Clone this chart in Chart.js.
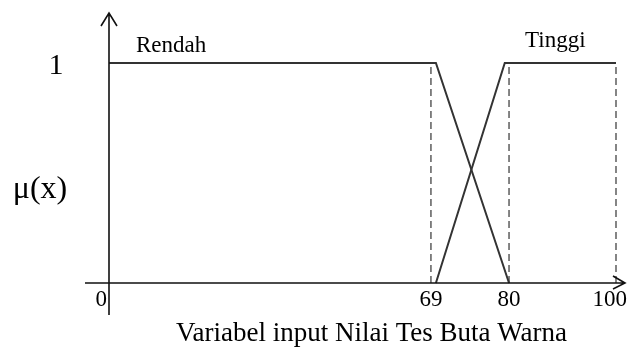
<!DOCTYPE html>
<html>
<head>
<meta charset="utf-8">
<script src="https://cdn.jsdelivr.net/npm/chart.js@4"></script>
<style>
  html, body { margin: 0; padding: 0; background: #fff; }
  #wrap { width: 627px; height: 350px; }
</style>
</head>
<body>
<div id="wrap"><canvas id="myChart" width="627" height="350"></canvas></div>
<script>
// data
const xTicks = [0, 69, 80, 100]
const yTicks = [1]
const rendahX = [0, 69.7, 80]
const rendahY = [1, 1, 0]
const tinggiX = [69.7, 79.4, 100]
const tinggiY = [0, 1, 1]
const guideX = [69, 80, 100]
const seriesNames = ['Rendah', 'Tinggi']
const yTitle = 'μ(x)'
const xTitle = 'Variabel input Nilai Tes Buta Warna'

// the x axis of the drawing is not to scale: each segment between ticks has its own width
const breakFrac = [0, 0.635, 0.789, 1]

const toFrac = (v) => {
  for (let i = 1; i < xTicks.length; i++) {
    if (v <= xTicks[i] || i === xTicks.length - 1) {
      const a = xTicks[i - 1], b = xTicks[i]
      return breakFrac[i - 1] + (v - a) / (b - a) * (breakFrac[i] - breakFrac[i - 1])
    }
  }
  return 0
}

class PiecewiseScale extends Chart.LinearScale {
  getPixelForValue(value) {
    return this.getPixelForDecimal(toFrac(value))
  }
  getValueForPixel(pixel) {
    const d = this.getDecimalForPixel(pixel)
    for (let i = 1; i < breakFrac.length; i++) {
      if (d <= breakFrac[i]) {
        const t = (d - breakFrac[i - 1]) / (breakFrac[i] - breakFrac[i - 1])
        return xTicks[i - 1] + t * (xTicks[i] - xTicks[i - 1])
      }
    }
    return xTicks[xTicks.length - 1]
  }
}
PiecewiseScale.id = 'piecewise'
PiecewiseScale.defaults = {}
Chart.register(PiecewiseScale)

const pts = (xs, ys) => xs.map((x, i) => ({ x: x, y: ys[i] }))

const datasets = [
  { label: seriesNames[0], data: pts(rendahX, rendahY), borderColor: '#333', borderWidth: 2 },
  { label: seriesNames[1], data: pts(tinggiX, tinggiY), borderColor: '#333', borderWidth: 2 }
]
guideX.forEach(g => {
  datasets.push({
    label: 'guide',
    data: [{ x: g, y: 0 }, { x: g, y: 1 }],
    borderColor: '#444',
    borderWidth: 1.3,
    borderDash: [7, 4]
  })
})

const serif = "'Liberation Serif', 'DejaVu Serif', serif"

const axesPlugin = {
  id: 'axes',
  afterDraw(chart) {
    const c = chart.ctx
    const xs = chart.scales.x, ys = chart.scales.y
    const x0 = xs.getPixelForValue(0)
    const y0 = ys.getPixelForValue(0)
    const a = chart.chartArea
    c.save()
    c.strokeStyle = '#111'
    c.lineWidth = 1.6
    // x axis with arrow
    c.beginPath()
    c.moveTo(a.left - 24, y0)
    c.lineTo(a.right + 9, y0)
    c.moveTo(a.right - 3, y0 - 7)
    c.lineTo(a.right + 9, y0)
    c.lineTo(a.right - 3, y0 + 6)
    // y axis with arrow
    c.moveTo(x0, a.bottom + 32)
    c.lineTo(x0, a.top - 50)
    c.moveTo(x0 - 8, a.top - 37)
    c.lineTo(x0, a.top - 50)
    c.lineTo(x0 + 8, a.top - 37)
    c.stroke()

    c.fillStyle = '#000'
    // x tick labels
    c.font = '23px ' + serif
    c.textBaseline = 'top'
    xTicks.forEach((t, i) => {
      let px = xs.getPixelForValue(t)
      if (i === 0) { c.textAlign = 'right'; px -= 2 }
      else if (i === xTicks.length - 1) { c.textAlign = 'right'; px = Math.min(px + 18, chart.width) }
      else c.textAlign = 'center'
      c.fillText(String(t), px, a.bottom + 5)
    })
    // y tick labels
    c.font = '30px ' + serif
    c.textAlign = 'center'
    c.textBaseline = 'middle'
    yTicks.forEach(t => c.fillText(String(t), 56, ys.getPixelForValue(t) + 3))
    // y title
    c.font = '32px ' + serif
    c.fillText(yTitle, 40, 190)
    // x title
    c.font = '27px ' + serif
    c.textBaseline = 'alphabetic'
    c.fillText(xTitle, (a.left + a.right) / 2 + 9, 341)
    // series names
    c.font = '23px ' + serif
    c.textAlign = 'left'
    c.fillText(seriesNames[0], xs.getPixelForValue(0) + 27, 52)
    c.fillText(seriesNames[1], xs.getPixelForValue(80) + 16, 47)
    c.restore()
  }
}

const ctx = document.getElementById('myChart').getContext('2d')

new Chart(ctx, {
  type: 'line',
  data: { datasets: datasets },
  options: {
    responsive: false,
    animation: false,
    layout: { padding: { left: 109, right: 11, top: 63, bottom: 67 } },
    elements: { point: { radius: 0 }, line: { tension: 0 } },
    datasets: { line: { clip: false } },
    plugins: { legend: { display: false }, tooltip: { enabled: false } },
    scales: {
      x: { type: 'piecewise', min: 0, max: 100, display: false },
      y: { type: 'linear', min: 0, max: 1, display: false }
    }
  },
  plugins: [axesPlugin]
})
</script>
</body>
</html>
